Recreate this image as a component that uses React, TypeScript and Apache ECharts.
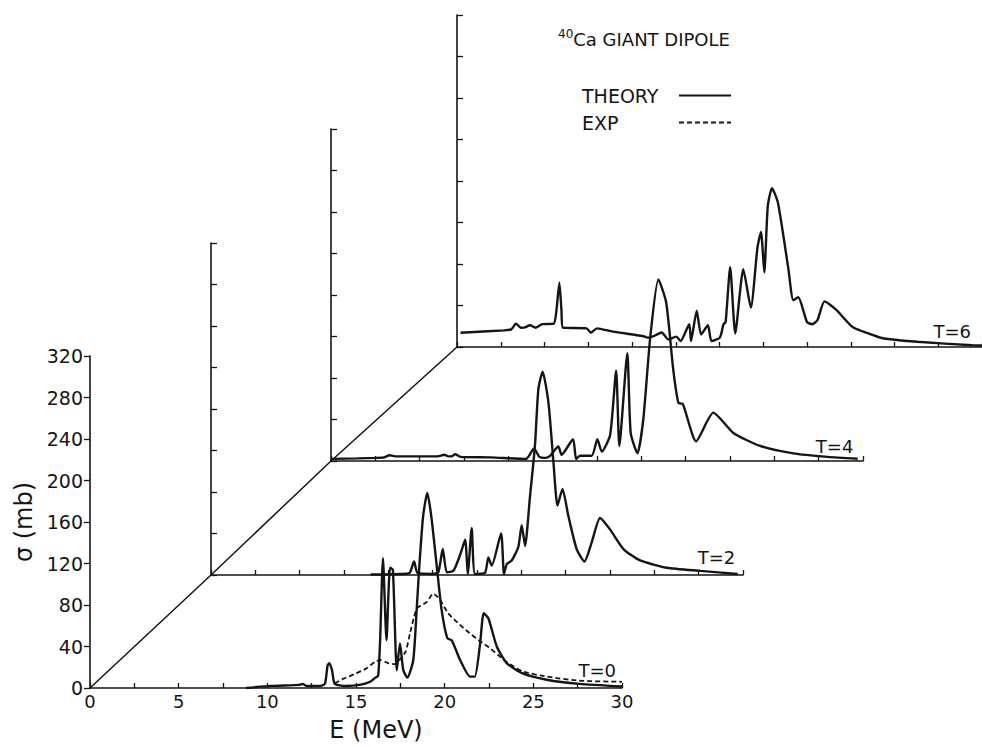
import React, { useEffect, useRef } from "react";
import * as echarts from "echarts";

// ---------- data (E in MeV, sigma in mb) ----------
const PLANE_T = [0, 2, 4, 6];

const T0_E = [8.8, 10.2, 11.8, 12.0, 12.2, 13.0, 13.25, 13.4, 13.5, 13.65, 13.8, 14.4, 15.2, 15.8, 16.1, 16.25, 16.36, 16.52, 16.72, 16.92, 17.08, 17.3, 17.48, 17.67, 17.9, 18.23, 18.42, 18.55, 18.78, 19.02, 19.25, 19.55, 19.83, 20.15, 20.4, 20.87, 21.43, 21.7, 22.0, 22.2, 22.47, 22.94, 23.5, 24.4, 25.75, 27.6, 30.0];
const T0_S = [0, 2, 3, 4, 2, 2, 4, 22, 24, 17, 4, 2, 3, 6, 10, 12, 46, 125, 46, 116, 114, 17, 43, 17, 10, 27, 75, 112, 165, 188, 165, 118, 75, 48, 46, 27, 11, 11, 43, 72, 67, 40, 24, 14, 8, 4, 1.5];

const EXP_E = [13.8, 14.3, 15.0, 15.6, 16.05, 16.4, 16.8, 17.2, 17.5, 17.8, 18.05, 18.25, 18.45, 19.0, 19.35, 19.7, 20.2, 20.85, 21.4, 22.0, 22.5, 23.0, 23.5, 24.4, 25.75, 27.6, 30.0];
const EXP_S = [4.5, 9, 14, 19, 25, 27, 24, 23, 28, 35, 53, 67, 77, 83, 91, 86, 72, 61, 53, 45, 39, 32, 25, 16, 11, 7, 6];

const T2_E = [9.0, 10.7, 11.2, 11.45, 11.65, 12.5, 12.82, 13.07, 13.3, 13.67, 14.04, 14.33, 14.48, 14.7, 14.89, 15.45, 15.64, 15.83, 16.36, 16.52, 16.68, 16.96, 17.33, 17.52, 17.71, 17.99, 18.27, 18.46, 18.7, 19.03, 19.31, 19.54, 19.82, 20.15, 20.62, 21.06, 21.47, 21.94, 22.5, 23.26, 24.2, 25.7, 27.6, 29.7];
const T2_S = [0.5, 1, 2, 13, 2, 1, 2.6, 25, 2.6, 4, 19, 34, 1, 45, 1, 2, 17, 9, 40, 1, 10.6, 14, 27, 48, 28, 76, 125, 179, 196, 166, 109, 67, 83, 57, 25, 13, 31.5, 55, 44, 25, 14, 7, 4, 1];

const T4_E = [0, 1.5, 2.5, 3.0, 3.3, 3.7, 5.0, 6.0, 6.4, 6.6, 6.8, 7.0, 7.3, 9.0, 11.0, 11.45, 11.75, 12.1, 12.35, 12.82, 13.0, 13.65, 13.82, 14.04, 14.7, 15.02, 15.27, 15.74, 16.08, 16.26, 16.71, 16.9, 17.28, 17.61, 17.99, 18.46, 18.9, 19.3, 19.59, 19.84, 20.59, 21.56, 22.69, 24.2, 26.07, 28.0, 29.7];
const T4_S = [2, 2.5, 3, 3.5, 5.5, 4.5, 4.5, 4.5, 6, 4.5, 4.5, 6.5, 4, 3.5, 2, 12, 4, 3, 5, 14, 6, 21, 2, 5, 5, 21, 9, 25, 87, 14.5, 104, 27, 7.4, 40, 117, 175, 153, 88, 56, 55, 19, 46.6, 27, 14.5, 7.4, 4, 2.2];

const T6_E = [0.2, 2.7, 3.1, 3.37, 3.65, 3.9, 4.17, 4.5, 4.87, 5.53, 5.68, 5.85, 5.97, 6.05, 7.4, 7.65, 8.0, 8.9, 10.6, 10.9, 11.3, 11.7, 12.07, 12.53, 12.78, 13.27, 13.37, 13.7, 13.95, 14.34, 14.54, 15.02, 15.23, 15.35, 15.61, 15.9, 16.36, 16.79, 17.17, 17.37, 17.56, 17.76, 18.0, 18.34, 18.93, 19.22, 19.5, 20.0, 20.3, 20.6, 21.0, 21.66, 22.63, 24.2, 24.5, 26.3, 29.45, 30.0];
const T6_S = [13.8, 16, 17, 22.5, 18.6, 19, 21, 18.6, 22, 22.5, 35, 62, 35, 18.6, 18, 13.8, 18, 14.8, 10.6, 9, 11, 14, 7.3, 10, 5.7, 22, 5.7, 35, 12, 21, 5.7, 9, 22, 24, 77, 13, 75, 38, 96, 111, 72, 136, 153, 139, 76, 45, 48, 24, 22, 26, 44, 36, 19, 9, 8, 5, 1.7, 1.5];

const THEORY_E = [T0_E, T2_E, T4_E, T6_E];
const THEORY_S = [T0_S, T2_S, T4_S, T6_S];

// T=.. label anchor in each plane's own axes
const TLABEL_E = [28.6, 28.5, 28.4, 28.3];
const TLABEL_S = [17, 17, 14, 15];

const E_MIN = 0;
const E_MAX = 30;
const E_STEP = 2.5;
const S_MIN = 0;
const S_MAX = 320;
const S_STEP = 40;

// ---------- layout ----------
const ORIGIN_X = 90;
const ORIGIN_Y = 688;
const PW = 532;
const PH = 332;
const OFF_X = [0, 121, 241, 367];
const OFF_Y = [0, 113, 227, 341];

const FONT = "DejaVu Sans";
const INK = "#151515";

const zip = (a: number[], b: number[]) => a.map((v, i) => [v, b[i]]);

export default function App() {
  const ref = useRef<HTMLDivElement>(null);
  useEffect(() => {
    if (!ref.current) return;
    const chart = echarts.init(ref.current, undefined, { renderer: "svg" });

    const grids = PLANE_T.map((_, i) => ({
      left: ORIGIN_X + OFF_X[i],
      top: ORIGIN_Y - OFF_Y[i] - PH,
      width: PW,
      height: PH,
    }));

    const xAxes = PLANE_T.map((_, i) => ({
      type: "value",
      gridIndex: i,
      min: E_MIN,
      max: E_MAX,
      interval: E_STEP,
      name: i === 0 ? "E (MeV)" : "",
      nameLocation: "middle",
      nameGap: 30,
      nameTextStyle: {
        fontFamily: FONT,
        fontSize: 24,
        color: INK,
        padding: [0, 0, 0, 40],
      },
      axisLine: { show: true, onZero: false, lineStyle: { color: INK, width: 1.6 } },
      axisTick: { show: true, inside: true, length: 5, lineStyle: { color: INK, width: 1.3 } },
      axisLabel:
        i === 0
          ? {
              show: true,
              fontFamily: FONT,
              fontSize: 18,
              color: INK,
              margin: 4,
              formatter: (v: number) => (v % 5 === 0 ? String(v) : ""),
            }
          : { show: false },
      splitLine: { show: false },
    }));

    const yAxes = PLANE_T.map((_, i) => ({
      type: "value",
      gridIndex: i,
      min: S_MIN,
      max: S_MAX,
      interval: S_STEP,
      name: i === 0 ? "σ (mb)" : "",
      nameLocation: "middle",
      nameRotate: 90,
      nameGap: 52,
      nameTextStyle: { fontFamily: FONT, fontSize: 24, color: INK },
      axisLine: { show: true, onZero: false, lineStyle: { color: INK, width: 1.6 } },
      axisTick: { show: true, inside: i > 0, length: 6, lineStyle: { color: INK, width: 1.3 } },
      axisLabel:
        i === 0
          ? { show: true, fontFamily: FONT, fontSize: 19, color: INK, margin: 7 }
          : { show: false },
      splitLine: { show: false },
    }));

    const theorySeries = PLANE_T.map((_, i) => ({
      type: "line",
      name: "THEORY",
      xAxisIndex: i,
      yAxisIndex: i,
      data: zip(THEORY_E[i], THEORY_S[i]),
      symbol: "none",
      smooth: 0.2,
      lineStyle: { color: INK, width: 2.4 },
      itemStyle: { color: INK },
      z: 3,
    }));

    const labelSeries = PLANE_T.map((t, i) => ({
      type: "scatter",
      name: "label" + t,
      xAxisIndex: i,
      yAxisIndex: i,
      data: [[TLABEL_E[i], TLABEL_S[i]]],
      symbolSize: 1,
      itemStyle: { color: "rgba(0,0,0,0)" },
      silent: true,
      label: {
        show: true,
        position: "inside",
        formatter: "T=" + t,
        fontFamily: FONT,
        fontSize: 18,
        color: INK,
        textBorderWidth: 0,
        opacity: 1,
      },
    }));

    const diag = PLANE_T.map((_, i) => [ORIGIN_X + OFF_X[i], ORIGIN_Y - OFF_Y[i]]);

    chart.setOption({
      animation: false,
      backgroundColor: "#ffffff",
      title: {
        text: "{sup|40}{n|Ca GIANT DIPOLE}",
        left: 553,
        top: 23,
        textStyle: {
          fontWeight: "normal",
          rich: {
            sup: { fontFamily: FONT, fontSize: 12, fontWeight: "normal", color: INK, lineHeight: 14, verticalAlign: "top" },
            n: { fontFamily: FONT, fontSize: 18, fontWeight: "normal", color: INK, lineHeight: 22 },
          },
        },
      },
      legend: {
        data: ["THEORY", "EXP"],
        orient: "vertical",
        left: 577,
        top: 81,
        align: "right",
        itemWidth: 52,
        itemHeight: 14,
        itemGap: 8,
        selectedMode: false,
        itemStyle: { opacity: 0 },
        formatter: (name: string) => "{a|" + name + "}",
        textStyle: {
          fontFamily: FONT,
          fontSize: 19,
          color: INK,
          rich: { a: { fontFamily: FONT, fontSize: 19, color: INK, width: 92, align: "left", lineHeight: 20 } },
        },
      },
      grid: grids,
      xAxis: xAxes,
      yAxis: yAxes,
      graphic: [
        {
          type: "polyline",
          shape: { points: diag },
          style: { stroke: INK, lineWidth: 1.5, fill: null },
          silent: true,
        },
      ],
      series: [
        ...theorySeries,
        {
          type: "line",
          name: "EXP",
          xAxisIndex: 0,
          yAxisIndex: 0,
          data: zip(EXP_E, EXP_S),
          symbol: "none",
          smooth: 0.2,
          lineStyle: { color: INK, width: 1.8, type: [5, 3] },
          itemStyle: { color: INK },
          z: 3,
        },
        ...labelSeries,
      ],
    });
    return () => chart.dispose();
  }, []);

  return (
    <div
      ref={ref}
      style={{ position: "fixed", left: 0, top: 0, width: 982, height: 747, background: "#fff" }}
    />
  );
}
